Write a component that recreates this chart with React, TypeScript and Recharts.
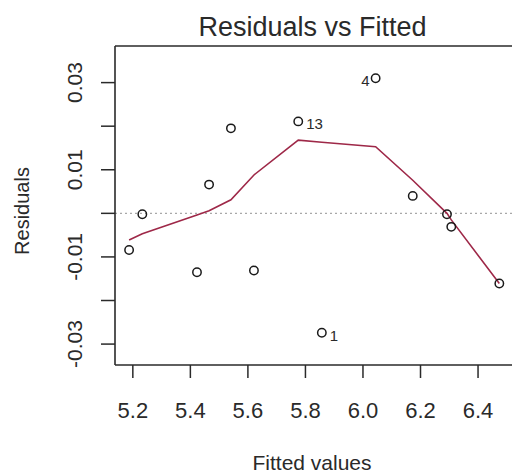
import React from "react";
import {
  ComposedChart,
  Scatter,
  Line,
  XAxis,
  YAxis,
  ReferenceLine,
} from "recharts";

// ---- data ----
const fitted = [5.187, 5.233, 5.423, 5.465, 5.541, 5.621, 5.775, 5.857, 6.044, 6.173, 6.292, 6.307, 6.474];
const residuals = [-0.0084, -0.0002, -0.0135, 0.0066, 0.0195, -0.0131, 0.0211, -0.0274, 0.031, 0.004, -0.0002, -0.0031, -0.0161];
const smoothed = [-0.0061, -0.0047, -0.0004, 0.0006, 0.0031, 0.0088, 0.0168, 0.0163, 0.0153, 0.0076, 0.0, -0.0015, -0.0161];
const pointLabels = ["", "", "", "", "", "", "13", "1", "4", "", "", "", ""];

const xTicks = [5.2, 5.4, 5.6, 5.8, 6.0, 6.2, 6.4];
const yTicks = [-0.03, -0.02, -0.01, 0, 0.01, 0.02, 0.03];
const xDomain: [number, number] = [5.138, 6.525];
const yDomain: [number, number] = [-0.0348, 0.0384];

const titleText = "Residuals vs Fitted";
const xLabelText = "Fitted values";
const yLabelText = "Residuals";

const points = fitted.map((x, i) => ({ x, y: residuals[i], label: pointLabels[i] }));
const smoothLine = fitted.map((x, i) => ({ x, y: smoothed[i] }));

const FONT = "'Liberation Sans', Arial, sans-serif";
const INK = "#2a2a2a";
const LEFT_LABEL_FROM = 5.95;

const PointShape = (props: any) => {
  const { cx, cy, payload } = props;
  if (cx == null || cy == null) return null;
  const left = payload.x > LEFT_LABEL_FROM;
  return (
    <g>
      <circle cx={cx} cy={cy} r={4.2} fill="none" stroke="#1a1a1a" strokeWidth={1.5} />
      {payload.label ? (
        <text
          x={left ? cx - 6 : cx + 8}
          y={cy + 8}
          textAnchor={left ? "end" : "start"}
          fontSize={15}
          fontFamily={FONT}
          fill={INK}
        >
          {payload.label}
        </text>
      ) : null}
    </g>
  );
};

const XTick = (props: any) => {
  const { x, payload } = props;
  return (
    <text x={x} y={418} textAnchor="middle" fontSize={22} fontFamily={FONT} fill={INK}>
      {Number(payload.value).toFixed(1)}
    </text>
  );
};

const YTick = (props: any) => {
  const { y, payload } = props;
  const v = Number(payload.value);
  const k = Math.round(v * 100);
  if (k % 2 === 0) return <g />;
  return (
    <text
      x={82}
      y={y}
      transform={`rotate(-90, 82, ${y})`}
      textAnchor="middle"
      fontSize={21}
      fontFamily={FONT}
      fill={INK}
    >
      {v.toFixed(2)}
    </text>
  );
};

export default function App() {
  return (
    <div
      style={{
        position: "absolute",
        left: 0,
        top: 0,
        width: 512,
        height: 473,
        overflow: "hidden",
        background: "#fff",
      }}
    >
      <ComposedChart
        width={560}
        height={473}
        margin={{ top: 46, right: 46, bottom: 48, left: 55 }}
      >
        <XAxis
          dataKey="x"
          type="number"
          domain={xDomain}
          ticks={xTicks}
          allowDataOverflow
          height={60}
          tick={<XTick />}
          tickSize={13}
          tickLine={{ stroke: INK, strokeWidth: 1.5 }}
          axisLine={{ stroke: INK, strokeWidth: 1.6 }}
        />
        <YAxis
          dataKey="y"
          type="number"
          domain={yDomain}
          ticks={yTicks}
          allowDataOverflow
          width={60}
          tick={<YTick />}
          tickSize={14}
          tickLine={{ stroke: INK, strokeWidth: 1.5 }}
          axisLine={{ stroke: INK, strokeWidth: 1.6 }}
        />
        <ReferenceLine y={0} stroke="#a8a8a8" strokeWidth={1.3} strokeDasharray="2 3" />
        <ReferenceLine y={yDomain[1]} stroke={INK} strokeWidth={1.6} />
        <ReferenceLine x={xDomain[1]} stroke={INK} strokeWidth={1.6} />
        <Line
          data={smoothLine}
          dataKey="y"
          type="linear"
          stroke="#9e2848"
          strokeWidth={1.6}
          dot={false}
          activeDot={false}
          isAnimationActive={false}
        />
        <Scatter data={points} dataKey="y" shape={<PointShape />} isAnimationActive={false} />
        <text x={312.5} y={36} textAnchor="middle" fontSize={27} fontFamily={FONT} fill={INK}>
          {titleText}
        </text>
        <text x={312} y={470} textAnchor="middle" fontSize={21} fontFamily={FONT} fill={INK}>
          {xLabelText}
        </text>
        <text
          x={29}
          y={211}
          transform="rotate(-90, 29, 211)"
          textAnchor="middle"
          fontSize={20}
          fontFamily={FONT}
          fill={INK}
        >
          {yLabelText}
        </text>
      </ComposedChart>
    </div>
  );
}
